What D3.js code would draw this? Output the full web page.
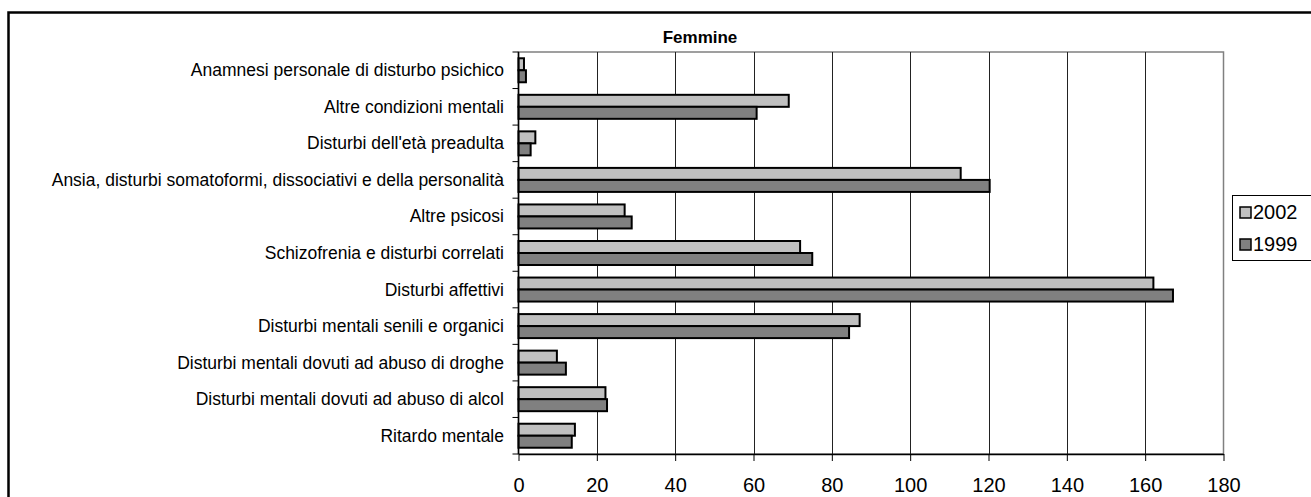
<!DOCTYPE html>
<html>
<head>
<meta charset="utf-8">
<script src="https://cdn.jsdelivr.net/npm/d3@7"></script>
<style>
  body { margin: 0; background: #fff; }
  svg { font-family: Arial, "Liberation Sans", sans-serif; }
</style>
</head>
<body>
<svg id="chart" width="1311" height="497"></svg>
<script>
/* global d3 */

let categories = [
  'Anamnesi personale di disturbo psichico',
  'Altre condizioni mentali',
  "Disturbi dell'età preadulta",
  'Ansia, disturbi somatoformi, dissociativi e della personalità',
  'Altre psicosi',
  'Schizofrenia e disturbi correlati',
  'Disturbi affettivi',
  'Disturbi mentali senili e organici',
  'Disturbi mentali dovuti ad abuso di droghe',
  'Disturbi mentali dovuti ad abuso di alcol',
  'Ritardo mentale'
]
let values2002 = [1.4, 69.0, 4.3, 112.9, 27.1, 71.9, 162.1, 87.1, 9.8, 22.2, 14.4]
let values1999 = [1.9, 60.8, 3.1, 120.3, 28.9, 75.0, 167.1, 84.4, 12.1, 22.6, 13.6]
let xTicks = [0, 20, 40, 60, 80, 100, 120, 140, 160, 180]
let seriesNames = ['2002', '1999']
let seriesColors = ['#c0c0c0', '#808080']

let svg = d3.select('#chart')
let plot = {left: 518.5, right: 1223.5, top: 52, bottom: 454}

// outer frame
svg.append('rect')
  .attr('x', 8.5)
  .attr('y', 12.5)
  .attr('width', 1320)
  .attr('height', 500)
  .attr('fill', 'none')
  .attr('stroke', '#000')
  .attr('stroke-width', 2.5)

let x = d3.scaleLinear().domain([0, 180]).range([plot.left, plot.right])
let y = d3.scaleBand().domain(categories).range([plot.top, plot.bottom])
let barH = 12
let inner = d3.scaleBand().domain(seriesNames)
  .range([(y.bandwidth() - 2 * barH) / 2, (y.bandwidth() + 2 * barH) / 2])

// plot area border
svg.append('rect')
  .attr('x', plot.left)
  .attr('y', plot.top)
  .attr('width', plot.right - plot.left)
  .attr('height', plot.bottom - plot.top)
  .attr('fill', 'none')
  .attr('stroke', '#808080')
  .attr('stroke-width', 1.5)

// grid lines
svg.append('g')
  .selectAll('line')
  .data(xTicks.slice(1, -1))
  .join('line')
  .attr('x1', d => Math.round(x(d)) + 0.5)
  .attr('x2', d => Math.round(x(d)) + 0.5)
  .attr('y1', plot.top)
  .attr('y2', plot.bottom)
  .attr('stroke', '#222')
  .attr('stroke-width', 1)

// bars
let series = [values2002, values1999]
series.forEach(function (vals, si) {
  svg.append('g')
    .selectAll('rect')
    .data(categories)
    .join('rect')
    .attr('x', x(0))
    .attr('y', d => y(d) + inner(seriesNames[si]))
    .attr('width', (d, i) => x(vals[i]) - x(0))
    .attr('height', inner.bandwidth())
    .attr('fill', seriesColors[si])
    .attr('stroke', '#000')
    .attr('stroke-width', 2)
})

// x axis
let xAxis = svg.append('g')
  .attr('transform', 'translate(0,' + plot.bottom + ')')
  .call(d3.axisBottom(x).tickValues(xTicks).tickSize(7).tickPadding(17).tickSizeOuter(0))
xAxis.select('.domain').attr('stroke', '#000').attr('stroke-width', 1.5)
xAxis.selectAll('.tick line').attr('stroke', '#000')
xAxis.selectAll('text')
  .style('font-size', '20px')
  .style('font-family', 'Arial, "Liberation Sans", sans-serif')
  .attr('fill', '#000')

// y axis
let yTickPos = categories.map(c => y(c)).concat([plot.bottom])
let yAxis = svg.append('g')
yAxis.append('line')
  .attr('x1', plot.left)
  .attr('x2', plot.left)
  .attr('y1', plot.top)
  .attr('y2', plot.bottom)
  .attr('stroke', '#000')
  .attr('stroke-width', 1.5)
yAxis.selectAll('line.tk')
  .data(yTickPos)
  .join('line')
  .attr('class', 'tk')
  .attr('x1', plot.left - 6)
  .attr('x2', plot.left)
  .attr('y1', d => d)
  .attr('y2', d => d)
  .attr('stroke', '#000')
yAxis.selectAll('text')
  .data(categories)
  .join('text')
  .text(d => d)
  .attr('x', 504)
  .attr('y', d => y(d) + y.bandwidth() / 2 + 6)
  .attr('text-anchor', 'end')
  .style('font-size', '17.5px')
  .attr('fill', '#000')

// title
svg.append('text')
  .text('Femmine')
  .attr('x', 700)
  .attr('y', 43)
  .attr('text-anchor', 'middle')
  .style('font-weight', 'bold')
  .style('font-size', '17px')

// legend
let lg = svg.append('g')
lg.append('rect')
  .attr('x', 1232.5)
  .attr('y', 195.5)
  .attr('width', 90)
  .attr('height', 65)
  .attr('fill', '#fff')
  .attr('stroke', '#000')
  .attr('stroke-width', 1)
seriesNames.forEach(function (name, i) {
  lg.append('rect')
    .attr('x', 1240)
    .attr('y', 207 + i * 32)
    .attr('width', 11)
    .attr('height', 11)
    .attr('fill', seriesColors[i])
    .attr('stroke', '#000')
    .attr('stroke-width', 1.5)
  lg.append('text')
    .text(name)
    .attr('x', 1253)
    .attr('y', 219 + i * 32)
    .style('font-size', '20px')
})
</script>
</body>
</html>
